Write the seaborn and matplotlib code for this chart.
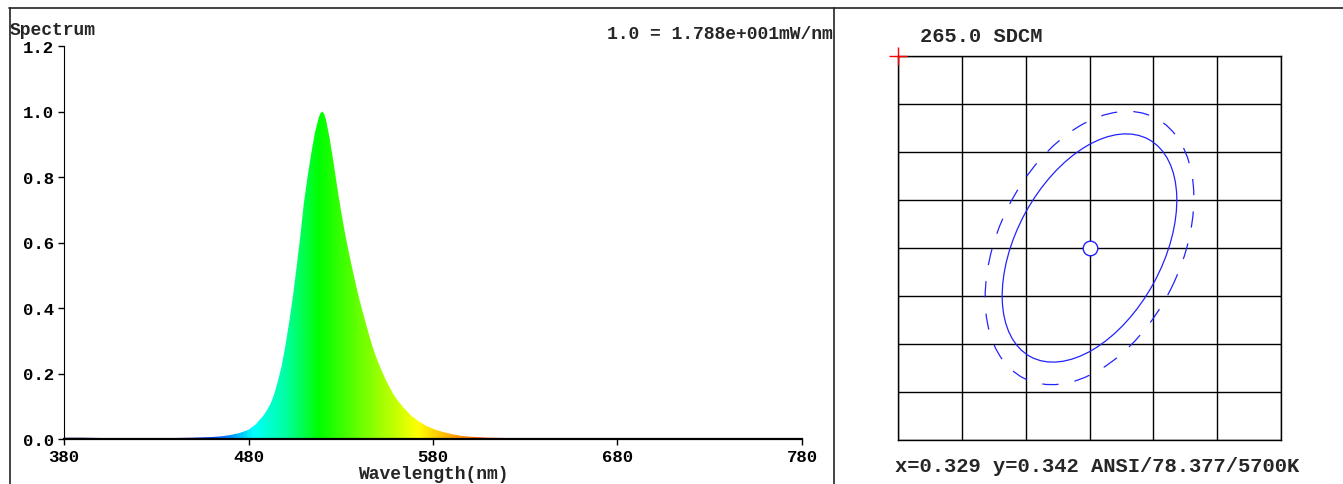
import numpy as np
import pandas as pd
import seaborn as sns
import matplotlib.pyplot as plt
from matplotlib.colors import LinearSegmentedColormap
from matplotlib.patches import Ellipse
from matplotlib.lines import Line2D

# spectrum (relative, 1.0 = peak)
wavelength = [380, 390, 400, 410, 420, 430, 440, 450, 460, 465, 470, 475, 480, 484, 488,
              490, 492, 494, 496, 498, 500, 502, 504, 506, 508, 510, 512, 514, 516, 518,
              519, 520, 521, 522, 524, 526, 528, 530, 532, 534, 536, 538, 540, 542, 544,
              546, 548, 550, 552, 554, 556, 558, 560, 564, 568, 572, 576, 580, 585, 590,
              595, 600, 610, 620, 630, 640, 660, 680, 700, 720, 740, 760, 780]
intensity = [0.004, 0.004, 0.003, 0.003, 0.002, 0.002, 0.003, 0.004, 0.006, 0.008, 0.012, 0.018, 0.028, 0.045, 0.071,
             0.088, 0.108, 0.138, 0.178, 0.224, 0.285, 0.355, 0.432, 0.522, 0.615, 0.720, 0.800, 0.872, 0.935, 0.980,
             0.995, 1.000, 0.993, 0.975, 0.918, 0.848, 0.772, 0.702, 0.638, 0.580, 0.527, 0.476, 0.428, 0.386, 0.345,
             0.305, 0.269, 0.238, 0.211, 0.186, 0.163, 0.142, 0.124, 0.096, 0.072, 0.055, 0.041, 0.031, 0.022, 0.015,
             0.010, 0.007, 0.004, 0.003, 0.002, 0.002, 0.001, 0.001, 0.001, 0.0005, 0.0005, 0.0005, 0.0005]
x_ticks_nm = [380, 480, 580, 680, 780]
y_ticks = [0.0, 0.2, 0.4, 0.6, 0.8, 1.0, 1.2]

# chromaticity panel
cie_x = 0.329
cie_y = 0.342
grid_x = [0.317, 0.321, 0.325, 0.329, 0.333, 0.337, 0.341]
grid_y = [0.330, 0.333, 0.336, 0.339, 0.342, 0.345, 0.348, 0.351, 0.354]
inner_ellipse = [0.01547, 0.00916, 61.3]   # width, height, angle
outer_ellipse = [0.01824, 0.01141, 63.3]
corner_mark = [0.317, 0.354]

title_left = 'Spectrum'
scale_note = '1.0 = 1.788e+001mW/nm'
sdcm_text = '265.0 SDCM'
info_text = 'x=0.329 y=0.342 ANSI/78.377/5700K'

# wavelength colours
spec_colors = [(380, '#3a0a6e'), (440, '#0000ff'), (462, '#0050ff'), (482, '#00ffff'),
               (500, '#00ffa0'), (518, '#00ff00'), (545, '#80ff00'), (572, '#ffff00'),
               (596, '#ff8c00'), (625, '#ff0000'), (700, '#ff0000'), (780, '#900000')]

sns.set_style('ticks')
plt.rcParams['font.family'] = ['Liberation Mono', 'DejaVu Sans Mono']
plt.rcParams['font.weight'] = 'bold'

W, H = 1343, 485
fig = plt.figure(figsize=(W / 100, H / 100), dpi=100)

# ---- spectrum ----
ax = fig.add_axes([64 / W, 45 / H, 738 / W, 393 / H])
df = pd.DataFrame({'wl': wavelength, 'val': intensity})
sns.lineplot(data=df, x='wl', y='val', ax=ax, color='#00ff00', linewidth=0)
fill = ax.fill_between(wavelength, intensity, 0, facecolor='none', edgecolor='none')
cmap = LinearSegmentedColormap.from_list('spec', [((w - 380) / 400, c) for w, c in spec_colors])
grad = ax.imshow(np.linspace(380, 780, 801)[None, :], cmap=cmap, vmin=380, vmax=780,
                 extent=(380, 780, 0, 1.2), aspect='auto', origin='lower',
                 interpolation='bilinear')
grad.set_clip_path(fill.get_paths()[0], transform=ax.transData)

ax.set_xlim(380, 780)
ax.set_ylim(0, 1.2)
ax.set_xticks(x_ticks_nm)
ax.set_yticks(y_ticks)
ax.set_yticklabels(['%.1f' % v for v in y_ticks])
ax.tick_params(direction='out', length=4, width=1, labelsize=12.5, pad=3, colors='black')
ax.set_xlabel('Wavelength(nm)', fontsize=13, labelpad=1, fontweight='bold')
ax.set_ylabel('')
sns.despine(ax=ax)
ax.spines['left'].set_color('black')
ax.spines['bottom'].set_color('black')
ax.spines['bottom'].set_linewidth(1.6)

fig.text(10 / W, (H - 35) / H, title_left, fontsize=13, fontweight='bold', va='baseline')
fig.text(833 / W, (H - 39) / H, scale_note, fontsize=13, fontweight='bold', ha='right', va='baseline')

# ---- chromaticity / SDCM ----
ax2 = fig.add_axes([898 / W, 44 / H, 383 / W, 384 / H])
ax2.set_xlim(grid_x[0], grid_x[-1])
ax2.set_ylim(grid_y[0], grid_y[-1])
ax2.set_xticks(grid_x)
ax2.set_yticks(grid_y)
ax2.set_xticklabels([])
ax2.set_yticklabels([])
ax2.tick_params(length=0)
ax2.grid(True, color='black', linewidth=1)
for s in ax2.spines.values():
    s.set_color('black')
    s.set_linewidth(1)

blue = '#2222ff'
ax2.add_patch(Ellipse((cie_x, cie_y), inner_ellipse[0], inner_ellipse[1], angle=inner_ellipse[2],
                      fill=False, edgecolor=blue, linewidth=0.9, zorder=3))
ax2.add_patch(Ellipse((cie_x, cie_y), outer_ellipse[0], outer_ellipse[1], angle=outer_ellipse[2],
                      fill=False, edgecolor=blue, linewidth=0.9, linestyle=(0, (13, 13)), zorder=3))
sns.scatterplot(x=[cie_x], y=[cie_y], ax=ax2, s=110, color='white', edgecolor=blue,
                linewidth=1, zorder=5)
ax2.plot([corner_mark[0]], [corner_mark[1]], marker='+', markersize=13.5, markeredgewidth=1,
         color='red', clip_on=False, zorder=6)
ax2.set_xlabel('')
ax2.set_ylabel('')

fig.text(920 / W, (H - 42) / H, sdcm_text, fontsize=14.7, fontweight='bold', va='baseline')
fig.text(895 / W, (H - 472) / H, info_text, fontsize=14.8, fontweight='bold', va='baseline')

# ---- outer frame ----
frame = dict(color='#222222', linewidth=1.2)
fig.add_artist(Line2D([9 / W, 1], [(H - 9) / H, (H - 9) / H], **frame))
fig.add_artist(Line2D([9.5 / W, 9.5 / W], [0, (H - 9) / H], **frame))
fig.add_artist(Line2D([834 / W, 834 / W], [0, (H - 9) / H], **frame))

fig.savefig('out.png', dpi=100)
